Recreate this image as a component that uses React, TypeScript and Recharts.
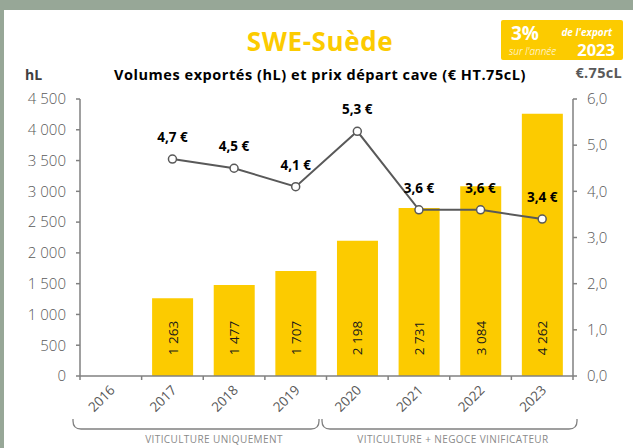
import React from "react";
import {
  ComposedChart,
  Bar,
  Line,
  XAxis,
  YAxis,
  LabelList,
} from "recharts";

const years = ["2016", "2017", "2018", "2019", "2020", "2021", "2022", "2023"];
const volumes = [null, 1263, 1477, 1707, 2198, 2731, 3084, 4262];
const prices = [null, 4.7, 4.5, 4.1, 5.3, 3.6, 3.6, 3.4];
const volumeTicks = [0, 500, 1000, 1500, 2000, 2500, 3000, 3500, 4000, 4500];
const priceTicks = [0, 1, 2, 3, 4, 5, 6];

const data = years.map((year, i) => ({ year, volume: volumes[i], price: prices[i] }));

const FONT = "'Open Sans', sans-serif";
const YELLOW = "#FCCB00";
const AXIS = "#808080";
const GREY = "#595959";

const fmtVolume = (v: number) => String(v).replace(/\B(?=(\d{3})+(?!\d))/g, " ");
const fmtPrice = (v: number) => v.toFixed(1).replace(".", ",");

// category label rotated, with tick marks drawn on band edges
function YearTick(props: any) {
  const { x, y, payload, index } = props;
  const half = payload?.offset ?? 30.8;
  return (
    <g>
      <line x1={x - half} y1={y} x2={x - half} y2={y + 4} stroke={AXIS} strokeWidth={1.5} />
      {index === years.length - 1 && (
        <line x1={x + half} y1={y} x2={x + half} y2={y + 4} stroke={AXIS} strokeWidth={1.5} />
      )}
      <text
        x={x + 5}
        y={y + 15}
        textAnchor="end"
        transform={`rotate(-45, ${x + 5}, ${y + 15})`}
        fill={GREY}
        fontSize={13.5}
        fontFamily={FONT}
      >
        {payload.value}
      </text>
    </g>
  );
}

function VolumeLabel(props: any) {
  const { x, y, width, height, value } = props;
  if (value == null) return null;
  const cx = x + width / 2;
  const cy = y + height - 38;
  return (
    <text
      x={cx}
      y={cy}
      transform={`rotate(-90, ${cx}, ${cy})`}
      textAnchor="middle"
      dominantBaseline="central"
      fill="#1a1a1a"
      fontSize={13.5}
      fontFamily={FONT}
    >
      {fmtVolume(value)}
    </text>
  );
}

function PriceLabel(props: any) {
  const { x, y, value } = props;
  if (value == null) return null;
  return (
    <text x={x} y={y - 17} textAnchor="middle" fill="#000" fontSize={13.5} fontWeight={700} fontFamily={FONT}>
      {fmtPrice(value)} €
    </text>
  );
}

function Bracket({ x1, x2, y }: { x1: number; x2: number; y: number }) {
  const r = 8;
  const d = `M${x1},${y} L${x1},${y + 2} Q${x1},${y + 10} ${x1 + r},${y + 10} L${x2 - r},${y + 10} Q${x2},${y + 10} ${x2},${y + 2} L${x2},${y}`;
  return <path d={d} fill="none" stroke={AXIS} strokeWidth={1.3} />;
}

export default function App() {
  return (
    <div style={{ position: "absolute", left: 0, top: 0, width: 633, height: 448, background: "#97a797", overflow: "hidden" }}>
      <div style={{ position: "absolute", left: 4, top: 10, width: 629, height: 438, background: "#fff" }} />
      <div style={{ position: "absolute", left: 0, top: 0 }}>
        <ComposedChart
          width={633}
          height={448}
          data={data}
          margin={{ top: 99, right: 0, left: 20, bottom: 42 }}
          barCategoryGap="17%"
        >
          <XAxis
            dataKey="year"
            height={30}
            tick={<YearTick />}
            tickLine={false}
            tickSize={0}
            tickMargin={0}
            axisLine={{ stroke: AXIS, strokeWidth: 1.5 }}
            interval={0}
          />
          <YAxis
            yAxisId="left"
            width={60}
            domain={[0, 4500]}
            ticks={volumeTicks}
            tickFormatter={fmtVolume}
            tickSize={4}
            tickMargin={10}
            axisLine={{ stroke: AXIS, strokeWidth: 1.5 }}
            tickLine={{ stroke: AXIS, strokeWidth: 1.5 }}
            tick={{ fill: GREY, fontSize: 15, fontWeight: 300, fontFamily: FONT }}
            interval={0}
          />
          <YAxis
            yAxisId="right"
            orientation="right"
            width={60}
            domain={[0, 6]}
            ticks={priceTicks}
            tickFormatter={fmtPrice}
            tickSize={4}
            tickMargin={10}
            axisLine={{ stroke: AXIS, strokeWidth: 1.5 }}
            tickLine={{ stroke: AXIS, strokeWidth: 1.5 }}
            tick={{ fill: GREY, fontSize: 15, fontWeight: 300, fontFamily: FONT, textAnchor: "start" }}
            interval={0}
          />
          <Bar yAxisId="left" dataKey="volume" fill={YELLOW} isAnimationActive={false}>
            <LabelList dataKey="volume" content={<VolumeLabel />} />
          </Bar>
          <Line
            yAxisId="right"
            dataKey="price"
            stroke={GREY}
            strokeWidth={2}
            dot={{ r: 4, fill: "#fff", stroke: GREY, strokeWidth: 1.5 }}
            isAnimationActive={false}
          >
            <LabelList dataKey="price" content={<PriceLabel />} />
          </Line>
        </ComposedChart>
      </div>
      <svg width={633} height={448} style={{ position: "absolute", left: 0, top: 0, pointerEvents: "none" }}>
        <text x={320} y={51} textAnchor="middle" fill={YELLOW} fontSize={26} fontWeight={700} letterSpacing={0.6} fontFamily={FONT}>
          SWE-Suède
        </text>
        <rect x={501} y={20} width={122} height={40} rx={2} fill={YELLOW} />
        <text x={511} y={40} fill="#fff" fontSize={19} fontWeight={700} fontFamily={FONT}>3%</text>
        <text x={612} y={36} textAnchor="end" fill="#fff" fontSize={10} fontWeight={700} fontStyle="italic" fontFamily={FONT}>de l'export</text>
        <text x={509} y={55} fill="#fff" fontSize={10} fontWeight={300} fontStyle="italic" fontFamily={FONT}>sur l'année</text>
        <text x={615} y={56} textAnchor="end" fill="#fff" fontSize={16.5} fontWeight={700} fontFamily={FONT}>2023</text>
        <text x={25} y={80} fill="#404040" fontSize={14} fontWeight={700} fontFamily={FONT}>hL</text>
        <text x={320} y={80} textAnchor="middle" fill="#000" fontSize={14.5} fontWeight={700} letterSpacing={0.55} fontFamily={FONT}>
          Volumes exportés (hL) et prix départ cave (€ HT.75cL)
        </text>
        <text x={622} y={78} textAnchor="end" fill={GREY} fontSize={14.5} fontWeight={700} letterSpacing={0.3} fontFamily={FONT}>€.75cL</text>
        <Bracket x1={73} x2={319} y={419} />
        <Bracket x1={322} x2={577} y={419} />
        <text x={214} y={443} textAnchor="middle" fill="#8a8a8a" fontSize={10} letterSpacing={0.4} fontFamily={FONT}>
          VITICULTURE UNIQUEMENT
        </text>
        <text x={453} y={443} textAnchor="middle" fill="#8a8a8a" fontSize={10} letterSpacing={0.4} fontFamily={FONT}>
          VITICULTURE + NEGOCE VINIFICATEUR
        </text>
      </svg>
    </div>
  );
}
